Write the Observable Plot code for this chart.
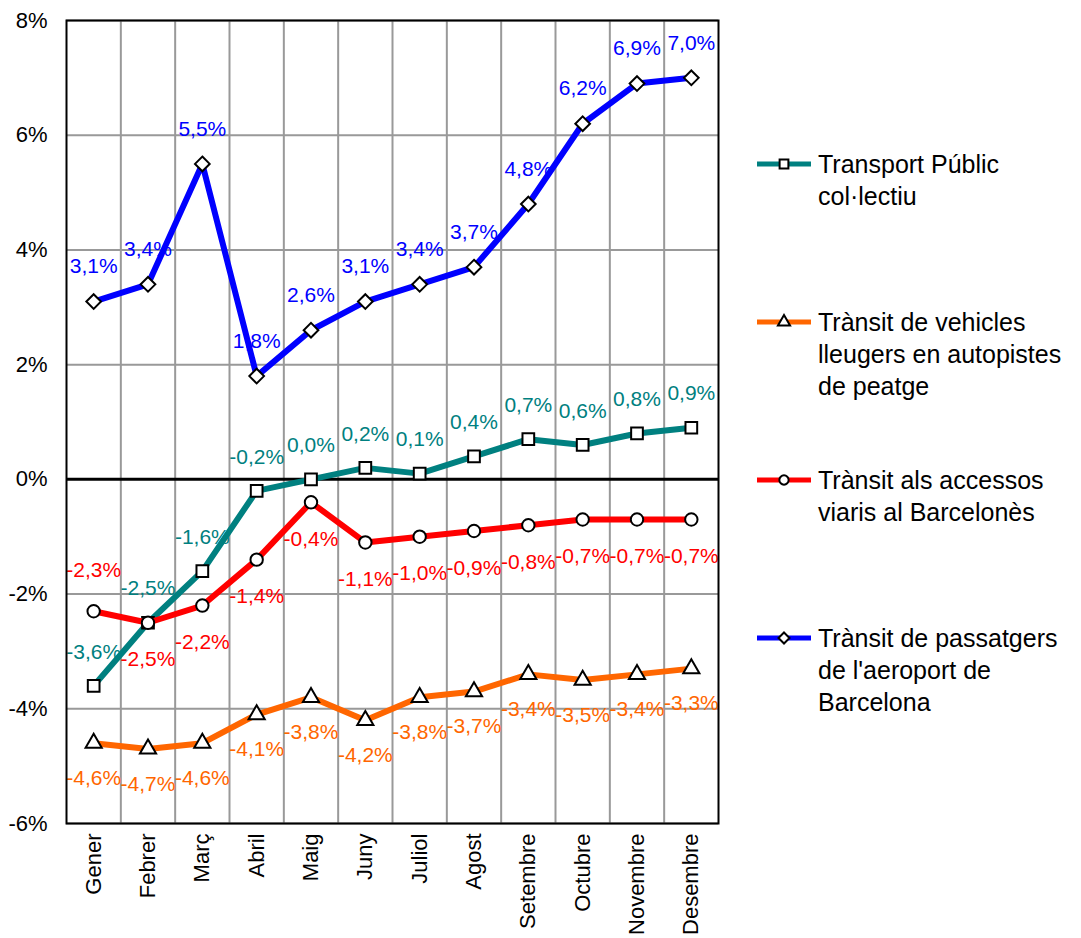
<!DOCTYPE html>
<html><head><meta charset="utf-8">
<script src="https://cdn.jsdelivr.net/npm/d3@7"></script>
<script src="https://cdn.jsdelivr.net/npm/@observablehq/plot@0.6"></script>
<style>
body{margin:0;background:#fff;font-family:"Liberation Sans",Arial,sans-serif;}
#wrap{position:relative;width:1081px;height:938px;}
#legend{position:absolute;left:757px;top:0;width:324px;}
.item{position:absolute;left:0;width:324px;}
.item svg{position:absolute;left:0;top:0;}
.item .txt{position:absolute;left:61px;top:0;font-size:25px;line-height:32px;color:#000;white-space:nowrap;}
</style></head><body><div id="wrap"><div id="chart"></div><div id="legend"></div></div>
<script>
const months = ["Gener","Febrer","Març","Abril","Maig","Juny","Juliol","Agost","Setembre","Octubre","Novembre","Desembre"];
const seriesNames = [
  ["Transport Públic", "col·lectiu"],
  ["Trànsit de vehicles", "lleugers en autopistes", "de peatge"],
  ["Trànsit als accessos", "viaris al Barcelonès"],
  ["Trànsit de passatgers", "de l'aeroport de", "Barcelona"]
];
const transportPublic   = [-3.6,-2.5,-1.6,-0.2,0.0,0.2,0.1,0.4,0.7,0.6,0.8,0.9];
const vehiclesAutopistes = [-4.6,-4.7,-4.6,-4.1,-3.8,-4.2,-3.8,-3.7,-3.4,-3.5,-3.4,-3.3];
const accessosBarcelones = [-2.3,-2.5,-2.2,-1.4,-0.4,-1.1,-1.0,-0.9,-0.8,-0.7,-0.7,-0.7];
const aeroport          = [3.1,3.4,5.5,1.8,2.6,3.1,3.4,3.7,4.8,6.2,6.9,7.0];
const yTicks = [-6,-4,-2,0,2,4,6,8];

const fmt = v => (v < 0 ? "-" : "") + Math.abs(v).toFixed(1).replace(".", ",") + "%";

const series = [
  {values: transportPublic,   color:"#008080", label:"#008080", symbol:"square",   r:6.6, dy:-34},
  {values: vehiclesAutopistes, color:"#FF6600", label:"#FF6600", symbol:"triangle", r:6.0, dy:35},
  {values: accessosBarcelones, color:"#FF0000", label:"#FF0000", symbol:"circle",   r:6.2, dy:37, firstDy:-41},
  {values: aeroport,          color:"#0000FF", label:"#0000FF", symbol:"diamond2", r:6.6, dy:-35}
];

const marks = [
  Plot.ruleY(yTicks.filter(d => d !== 0), {stroke:"#999", strokeWidth:2}),
  Plot.ruleX(d3.range(1, months.length), {x: i => i - 0.5, stroke:"#999", strokeWidth:2}),
  Plot.ruleY([0], {stroke:"#000", strokeWidth:3}),
  Plot.axisX({ticks:d3.range(months.length), tickFormat:i => months[i], tickRotate:-90, tickSize:0, tickPadding:10, fontSize:22, label:null}),
  Plot.axisY({ticks:yTicks, tickFormat:d => d + "%", tickSize:0, tickPadding:19, fontSize:22, label:null})
];

series.forEach(s => {
  const data = s.values.map((v, i) => ({i, v}));
  marks.push(Plot.line(data, {x:"i", y:"v", stroke:s.color, strokeWidth:6}));
  marks.push(Plot.dot(data, {x:"i", y:"v", symbol:()=>s.symbol, r:s.r, fill:"#fff", stroke:"#000", strokeWidth:2}));
});
series.forEach(s => {
  const data = s.values.map((v, i) => ({i, v}));
  const main = s.firstDy !== undefined ? data.slice(1) : data;
  marks.push(Plot.text(main, {x:"i", y:"v", text:d => fmt(d.v), dy:s.dy, fill:s.label, fontSize:21}));
  if (s.firstDy !== undefined) {
    marks.push(Plot.text(data.slice(0,1), {x:"i", y:"v", text:d => fmt(d.v), dy:s.firstDy, fill:s.label, fontSize:21}));
  }
});
marks.push(Plot.frame({stroke:"#000", strokeWidth:2}));

const chart = Plot.plot({
  width:1081, height:938,
  marginLeft:66, marginRight:363, marginTop:20, marginBottom:115,
  style:{fontFamily:"'Liberation Sans', Arial, sans-serif", fontSize:"20px", color:"#000", background:"#fff", overflow:"visible"},
  x:{domain:[-0.5, months.length - 0.5]},
  y:{domain:[-6, 8]},
  symbol:{type:"identity"},
  marks
});
document.getElementById("chart").appendChild(chart);

// Legend
const legend = d3.select("#legend");
const symMap = {square:d3.symbolSquare, triangle:d3.symbolTriangle, circle:d3.symbolCircle, diamond2:d3.symbolDiamond2};
series.forEach((s, k) => {
  const item = legend.append("div").attr("class","item").style("top", (148 + k*158) + "px");
  const svg = item.append("svg").attr("width", 56).attr("height", 32);
  svg.append("line").attr("x1",0).attr("x2",54).attr("y1",16).attr("y2",16).attr("stroke", s.color).attr("stroke-width",5);
  svg.append("path").attr("transform","translate(27,16)")
     .attr("d", d3.symbol(symMap[s.symbol], Math.PI*(s.r*0.75)*(s.r*0.75))())
     .attr("fill","#fff").attr("stroke","#000").attr("stroke-width",2);
  const txt = item.append("div").attr("class","txt");
  seriesNames[k].forEach(line => txt.append("div").text(line));
});
</script>
</body></html>
